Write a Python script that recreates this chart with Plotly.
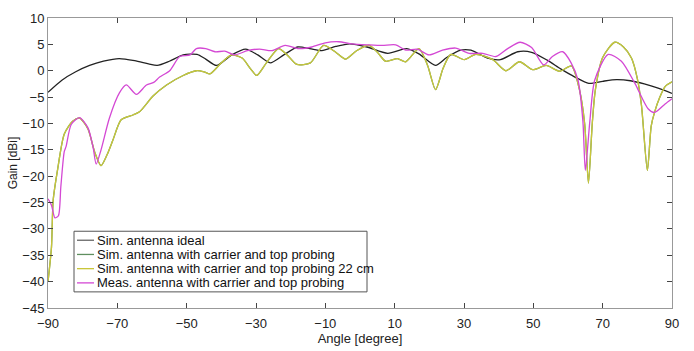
import plotly.graph_objects as go

# ---- data ----
ideal_angle = [-90, -86, -82, -78, -74, -69.5, -65, -61, -58.5, -55, -51, -47, -44.5, -41.4, -37, -33,
               -29.5, -25.9, -22, -18, -14.5, -11, -7, -3, 2, 8, 13.5, 17, 21.8, 25, 29, 32, 36.8,
               40.5, 45.5, 49.5, 54, 58, 62, 66, 70, 74, 78, 82, 86, 90]
ideal_gain = [-4.1, -1.8, -0.2, 1.0, 1.8, 2.3, 1.9, 1.3, 1.0, 1.8, 3.0, 3.1, 2.2, 1.0, 3.0, 4.1,
              3.0, 1.5, 3.0, 4.5, 4.2, 3.8, 4.6, 5.1, 4.5, 3.3, 4.2, 3.2, 1.0, 2.5, 3.9, 3.9, 2.4,
              2.1, 3.6, 3.5, 2.0, 0.3, -1.2, -2.4, -2.0, -1.7, -1.9, -2.5, -3.3, -4.3]

sim22_angle = [-90, -89, -88.5, -87.2, -85.3, -82.9, -80.9, -78.5, -76.5, -74.7, -73, -71.3, -68.9,
               -65.5, -63.6, -59.7, -55.8, -51, -47.2, -45, -43.3, -40, -37, -34, -31.5, -29.8, -27,
               -23.5, -21, -18.2, -14.3, -10.5, -7, -4.2, -1, 2.6, 5, 7.4, 10.8, 13.2, 17, 19.5,
               21.8, 24, 26.2, 30.1, 33.4, 38.3, 42.1, 46, 49.8, 53.7, 57.6, 61, 63.3, 64.8, 65.9,
               67, 67.9, 70, 73.5, 76, 78.3, 80, 81.2, 82.9, 84, 85, 86.5, 88, 90]
sim22_gain = [-40, -33.5, -24.5, -18.6, -12, -9.6, -9.0, -11, -15.5, -18, -16, -13.2, -9.3,
              -8.4, -7.8, -4.8, -2.7, -0.9, 0, -0.2, -0.6, 1.5, 3.0, 2.4, 0.3, -0.9, 1.5,
              4.2, 3.0, 1.2, 1.5, 4.8, 3.5, 2.2, 3.8, 4.8, 3.5, 1.8, 2.3, 1.7, 4.2, 1.0,
              -3.6, 0.5, 3.1, 2.1, 3.1, 2.1, 0, 1.7, 0.2, 1.0, -0.1, 0.9, -3.6, -10, -21.3,
              -10, -3.6, 2.5, 5.4, 4.5, 2.4, -1.5, -6.6, -18.9, -10.5, -7.8, -5, -3.0, -2.1]

# the plain "with carrier" simulation is hidden beneath the 22 cm curve in the reference
carrier_angle = list(sim22_angle)
carrier_gain = list(sim22_gain)

meas_angle = [-90, -89, -88, -87, -86.3, -85.3, -84.8, -83.3, -80.9, -78.5, -77, -76.1, -74.7, -72.3,
              -69.4, -67.4, -64.5, -61.6, -59.5, -57.8, -54.9, -52, -49, -47.2, -44.5, -41.8, -39,
              -36.1, -32.5, -29, -25.4, -21.6, -17.7, -13.9, -10, -6.1, -2.3, 2.6, 6.4, 10.3, 13.2,
              16.5, 19.9, 23.8, 27.6, 31.5, 35.4, 39.2, 42.6, 46.2, 49.5, 53, 55.5, 58.5, 60.9,
              62.9, 64.3, 65, 66.3, 67.7, 71.6, 75.4, 79.3, 83.1, 85, 88, 90]
meas_gain = [-24.3, -25.5, -27.9, -27.5, -22, -15.3, -14.4, -10.2, -8.9, -10.8, -14.5, -17.7, -15, -9,
             -4.2, -2.7, -4.5, -2.7, -2.2, -1.2, 0, 2.7, 3.0, 4.2, 4.2, 3.6, 3.7,
             3.0, 3.8, 4.1, 3.8, 4.8, 4.2, 4.5, 5.3, 5.5, 5.1, 4.9, 4.8, 4.9, 3.9,
             4.1, 3.0, 3.9, 4.3, 3.3, 3.3, 2.7, 4.2, 5.4, 4.4, 1.1, 2.7, 3.6, 1.5,
             -1.8, -9.6, -18.9, -9.6, -1.8, 3.1, 1.8, -2.4, -7.2, -7.9, -6.3, -5.3]

names = ["Sim. antenna ideal",
         "Sim. antenna with carrier and top probing",
         "Sim. antenna with carrier and top probing 22 cm",
         "Meas. antenna with carrier and top probing"]
colors = ["#222222", "#5f8f5f", "#c9c63a", "#d448d4"]
legend_colors = ["#666666", "#5f8f5f", "#c9c63a", "#d448d4"]
x_ticks = [-90, -70, -50, -30, -10, 10, 30, 50, 70, 90]
y_ticks = [10, 5, 0, -5, -10, -15, -20, -25, -30, -35, -40, -45]

W, H = 694, 351
ML, MR, MT, MB = 48, 22, 11, 34
PW, PH = W - ML - MR, H - MT - MB


def px_x(p):
    return (p - ML) / PW


def px_y(p):
    return (H - MB - p) / PH


fig = go.Figure()
series = [(ideal_angle, ideal_gain), (carrier_angle, carrier_gain),
          (sim22_angle, sim22_gain), (meas_angle, meas_gain)]
for (xs, ys), col, nm in zip(series, colors, names):
    fig.add_trace(go.Scatter(x=xs, y=ys, mode="lines", name=nm, showlegend=False,
                             line=dict(color=col, width=1.3, shape="spline", smoothing=0.7)))

font = "Liberation Sans, Arial, sans-serif"

# hand-built compact legend (box, sample lines, real text labels)
shapes = [dict(type="rect", xref="paper", yref="paper",
               x0=px_x(74), x1=px_x(367), y0=px_y(300), y1=px_y(236),
               line=dict(color="#555", width=1), fillcolor="white", layer="above")]
annotations = []
row_y = [245.5, 260.5, 275.5, 290.5]
for nm, col, ry in zip(names, legend_colors, row_y):
    shapes.append(dict(type="line", xref="paper", yref="paper",
                       x0=px_x(77), x1=px_x(94), y0=px_y(ry), y1=px_y(ry),
                       line=dict(color=col, width=1.3), layer="above"))
    annotations.append(dict(text=nm, xref="paper", yref="paper", x=px_x(95), y=px_y(ry),
                            xanchor="left", yanchor="middle", showarrow=False,
                            font=dict(size=13, family=font, color="#111")))

fig.update_layout(
    width=W, height=H,
    margin=dict(l=ML, r=MR, t=MT, b=MB),
    paper_bgcolor="white", plot_bgcolor="white",
    font=dict(family=font, size=13, color="#222"),
    showlegend=False,
    shapes=shapes, annotations=annotations,
)
fig.update_xaxes(range=[-90, 90], tickvals=x_ticks, ticks="inside", ticklen=5,
                 tickcolor="#444", showline=True, linecolor="#999", mirror="allticks",
                 showgrid=False, zeroline=False, ticklabelstandoff=3,
                 title=dict(text="Angle [degree]", standoff=0, font=dict(size=13)))
fig.update_yaxes(range=[-45, 10], tickvals=y_ticks, ticks="inside", ticklen=5,
                 tickcolor="#444", showline=True, linecolor="#999", mirror="allticks",
                 showgrid=False, zeroline=False,
                 title=dict(text="Gain [dBi]", standoff=2, font=dict(size=12)))

fig.write_html("out.html")
